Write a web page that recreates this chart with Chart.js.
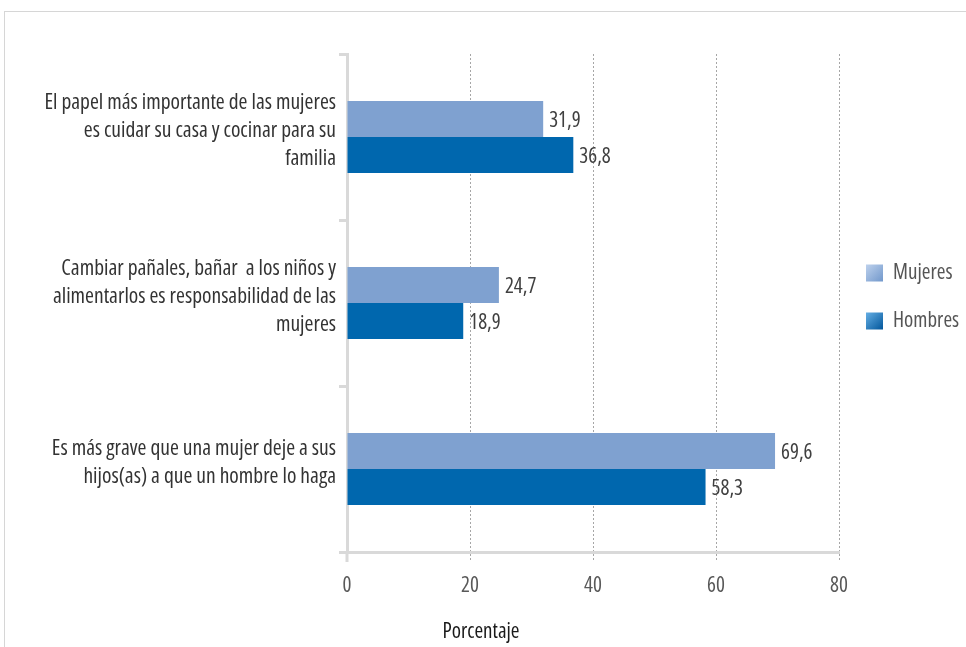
<!DOCTYPE html>
<html>
<head>
<meta charset="utf-8">
<script src="https://cdn.jsdelivr.net/npm/chart.js@4"></script>
<style>
  html, body { margin: 0; padding: 0; background: #fff; }
  #frame { position: absolute; left: 4px; top: 11px; width: 980px; height: 660px; border: 1px solid #d6d6d6; }
  #wrap { position: absolute; left: 0; top: 0; width: 966px; height: 647px; }
</style>
</head>
<body>
<div id="frame"></div>
<div id="wrap"><canvas id="myChart"></canvas></div>
<script>
var FONT = "'Open Sans', 'Roboto Condensed', sans-serif";
var PESO = 'normal condensed'; // ancho condensado de Open Sans

// categorías (etiquetas en varias líneas)
var categorias = [
  ['El papel más importante de las mujeres', 'es cuidar su casa y cocinar para su', 'familia'],
  ['Cambiar pañales, bañar  a los niños y', 'alimentarlos es responsabilidad de las', 'mujeres'],
  ['Es más grave que una mujer deje a sus', 'hijos(as) a que un hombre lo haga']
];
var mujeres = [31.9, 24.7, 69.6];
var hombres = [36.8, 18.9, 58.3];
var xTicks = [0, 20, 40, 60, 80];
var tituloX = 'Porcentaje';

var ctx = document.getElementById('myChart').getContext('2d');

// etiquetas de valor a la derecha de cada barra
var etiquetasValor = {
  id: 'etiquetasValor',
  afterDatasetsDraw: function (chart) {
    var c = chart.ctx;
    c.save();
    c.font = PESO + ' 21px ' + FONT;
    c.fillStyle = '#404040';
    c.textBaseline = 'middle';
    c.textAlign = 'left';
    chart.data.datasets.forEach(function (ds, i) {
      chart.getDatasetMeta(i).data.forEach(function (bar, j) {
        c.fillText(ds.data[j].toFixed(1).replace('.', ','), bar.x + 6, bar.y + 2);
      });
    });
    c.restore();
  }
};

// leyenda a la derecha (cuadros con degradado) y título del eje centrado en el lienzo
var leyenda = {
  id: 'leyenda',
  afterDraw: function (chart) {
    var c = chart.ctx;
    var a = chart.chartArea;
    var mid = (a.top + a.bottom) / 2;
    var x = a.right + 27;
    c.save();
    c.font = PESO + ' 21px ' + FONT;
    c.textBaseline = 'middle';
    c.textAlign = 'left';
    chart.data.datasets.forEach(function (ds, i) {
      var cy = mid - 30 + i * 48;
      var g = c.createLinearGradient(x, cy - 8, x + 17, cy + 9);
      g.addColorStop(0, ds.legendFill[0]);
      g.addColorStop(1, ds.legendFill[1]);
      c.fillStyle = g;
      c.fillRect(x, cy - 8.5, 17, 17);
      c.fillStyle = '#555555';
      c.fillText(ds.label, x + 27, cy);
    });

    // marca del 0 bajo el eje
    var x0 = chart.scales.x.getPixelForValue(0);
    c.strokeStyle = '#d9d9d9';
    c.lineWidth = 3;
    c.beginPath();
    c.moveTo(x0, a.bottom);
    c.lineTo(x0, a.bottom + 10);
    c.stroke();

    c.fillStyle = '#1a1a1a';
    c.textAlign = 'center';
    c.fillText(tituloX, chart.width / 2 - 2, a.bottom + 80);
    c.restore();
  }
};

var data = {
  labels: categorias,
  datasets: [
    { label: 'Mujeres', data: mujeres, backgroundColor: '#7fa1d0', legendFill: ['#bcd0ec', '#7097cb'] },
    { label: 'Hombres', data: hombres, backgroundColor: '#0067ae', legendFill: ['#63ade3', '#00559a'] }
  ]
};

var options = {
  indexAxis: 'y',
  responsive: true,
  maintainAspectRatio: false,
  animation: false,
  layout: { padding: { top: 54, right: 127, left: 0, bottom: 0 } },
  datasets: {
    bar: { categoryPercentage: 0.434, barPercentage: 1 }
  },
  scales: {
    x: {
      min: 0,
      max: 80,
      afterFit: function (s) { s.height = 95; },
      afterBuildTicks: function (s) { s.ticks = xTicks.map(function (v) { return { value: v }; }); },
      grid: {
        color: function (c) { return c.tick && c.tick.value === 0 ? 'rgba(0,0,0,0)' : '#a6a6a6'; },
        lineWidth: 1,
        tickLength: 10,
        tickBorderDash: [2, 2]
      },
      border: { display: true, color: '#d9d9d9', width: 3, dash: [2, 2] },
      ticks: { color: '#595959', font: { family: FONT, size: 21, weight: PESO, lineHeight: 1.2 }, padding: 11 }
    },
    y: {
      afterFit: function (s) { s.width = 347; },
      grid: {
        offset: true,
        drawOnChartArea: false,
        drawTicks: true,
        tickLength: 8,
        color: '#d9d9d9',
        lineWidth: 3
      },
      border: { display: true, color: '#d9d9d9', width: 3 },
      ticks: {
        color: '#333333',
        font: { family: FONT, size: 21.5, weight: PESO, lineHeight: 1.3 },
        padding: 3,
        labelOffset: -6
      }
    }
  },
  plugins: {
    tooltip: { enabled: false },
    legend: { display: false },
    title: { display: false }
  }
};

var myChart = new Chart(ctx, {
  type: 'bar',
  data: data,
  options: options,
  plugins: [etiquetasValor, leyenda]
});
</script>
</body>
</html>
